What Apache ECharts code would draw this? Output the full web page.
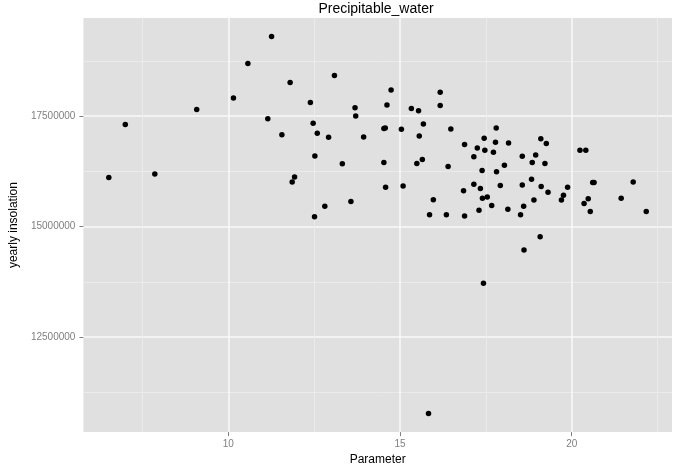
<!DOCTYPE html>
<html>
<head>
<meta charset="utf-8">
<script src="https://cdn.jsdelivr.net/npm/echarts@6/dist/echarts.min.js"></script>
<style>html,body{margin:0;padding:0;background:#fff}#c{width:674px;height:471px}</style>
</head>
<body>
<div id="c"></div>
<script>
const titleText = 'Precipitable_water';
const xName = 'Parameter';
const yName = 'yearly insolation';

const xValues = [6.52,7.00,7.86,9.08,10.15,10.57,11.26,11.15,11.80,11.56,11.93,11.86,12.39,12.47,12.59,12.92,12.52,12.81,12.51,13.09,13.32,14.74,13.69,13.71,13.94,13.57,14.62,14.53,14.57,14.53,14.58,15.04,15.09,15.33,15.54,15.68,15.56,15.49,15.65,15.97,15.86,16.17,16.17,16.48,16.40,16.35,16.88,16.88,16.85,17.25,17.15,17.45,17.47,17.72,17.78,17.80,18.16,17.39,17.81,18.04,17.15,17.34,17.92,17.40,17.54,17.67,17.30,18.14,18.56,18.95,18.85,19.10,19.26,19.22,18.56,18.83,19.11,19.31,18.90,18.60,18.51,19.88,19.76,19.70,20.24,20.41,20.61,20.65,20.48,20.36,20.54,21.44,21.79,22.17,19.08,18.61,17.43,15.83];
const yValues = [16110000,17310000,16190000,17650000,17910000,18690000,19300000,17440000,18260000,17080000,16120000,16010000,17810000,17340000,17110000,17020000,16600000,15460000,15220000,18420000,16420000,18090000,17690000,17500000,17030000,15570000,17750000,17220000,17230000,16450000,15890000,17200000,15920000,17670000,17620000,17320000,17050000,16430000,16520000,15610000,15270000,18040000,17740000,17210000,16360000,15270000,16860000,15240000,15810000,16780000,16580000,17000000,16730000,16680000,16910000,17230000,16890000,16270000,16240000,16390000,15960000,15860000,15930000,15640000,15670000,15480000,15370000,15390000,16590000,16620000,16450000,16990000,16880000,16430000,15940000,16070000,15910000,15780000,15600000,15460000,15270000,15890000,15710000,15600000,16730000,16730000,16000000,16000000,15630000,15520000,15340000,15640000,16010000,15340000,14770000,14470000,13720000,10770000];

const xMajorTicks = [10, 15, 20];
const xMinorTicks = [7.5, 12.5, 17.5, 22.5];
const yMajorTicks = [12500000, 15000000, 17500000];
const yMinorTicks = [11250000, 13750000, 16250000, 18750000];

const X_MIN = 5.78, X_MAX = 22.92;
const Y_MIN = 10350000, Y_MAX = 19720000;

const points = xValues.map((x, i) => [x, yValues[i]]);

const font = 'Liberation Sans, Arial, Helvetica, sans-serif';
const labelStyle = {color: '#7F7F7F', fontSize: 10, fontFamily: font};

const chart = echarts.init(document.getElementById('c'), null, {renderer: 'canvas'});
chart.setOption({
  animation: false,
  backgroundColor: '#FFFFFF',
  title: {
    text: titleText,
    left: 376,
    top: 2,
    padding: 0,
    textAlign: 'center',
    textStyle: {fontFamily: font, fontSize: 14, fontWeight: 'normal', color: '#000'}
  },
  grid: {
    left: 80, right: 2, top: 18, bottom: 32,
    show: true, backgroundColor: '#E0E0E0', borderWidth: 0
  },
  xAxis: [
    {
      type: 'value', min: X_MIN, max: X_MAX,
      axisLine: {show: false},
      axisTick: {show: false, customValues: xMinorTicks},
      axisLabel: {show: false, customValues: xMinorTicks},
      splitLine: {show: true, lineStyle: {color: '#EBEBEB', width: 1}}
    },
    {
      type: 'value', min: X_MIN, max: X_MAX, position: 'bottom',
      name: xName, nameLocation: 'middle', nameGap: 18,
      nameTextStyle: {fontFamily: font, fontSize: 12, color: '#000'},
      axisLine: {show: false},
      axisTick: {show: true, length: 4, customValues: xMajorTicks, lineStyle: {color: '#7F7F7F'}},
      axisLabel: Object.assign({customValues: xMajorTicks, margin: 7}, labelStyle),
      splitLine: {show: true, lineStyle: {color: '#FAFAFA', width: 1.5}}
    }
  ],
  yAxis: [
    {
      type: 'value', min: Y_MIN, max: Y_MAX,
      axisLine: {show: false},
      axisTick: {show: false, customValues: yMinorTicks},
      axisLabel: {show: false, customValues: yMinorTicks},
      splitLine: {show: true, lineStyle: {color: '#EBEBEB', width: 1}}
    },
    {
      type: 'value', min: Y_MIN, max: Y_MAX, position: 'left',
      name: yName, nameLocation: 'middle', nameGap: 56, nameRotate: 90,
      nameTextStyle: {fontFamily: font, fontSize: 12, color: '#000'},
      axisLine: {show: false},
      axisTick: {show: true, length: 4, customValues: yMajorTicks, lineStyle: {color: '#7F7F7F'}},
      axisLabel: Object.assign({customValues: yMajorTicks, margin: 8, formatter: v => String(v)}, labelStyle),
      splitLine: {show: true, lineStyle: {color: '#FAFAFA', width: 1.5}}
    }
  ],
  series: [{
    type: 'scatter',
    xAxisIndex: 1, yAxisIndex: 1,
    data: points,
    symbol: 'circle',
    symbolSize: 5.5,
    itemStyle: {color: '#000000', opacity: 1},
    silent: true
  }]
});
</script>
</body>
</html>
